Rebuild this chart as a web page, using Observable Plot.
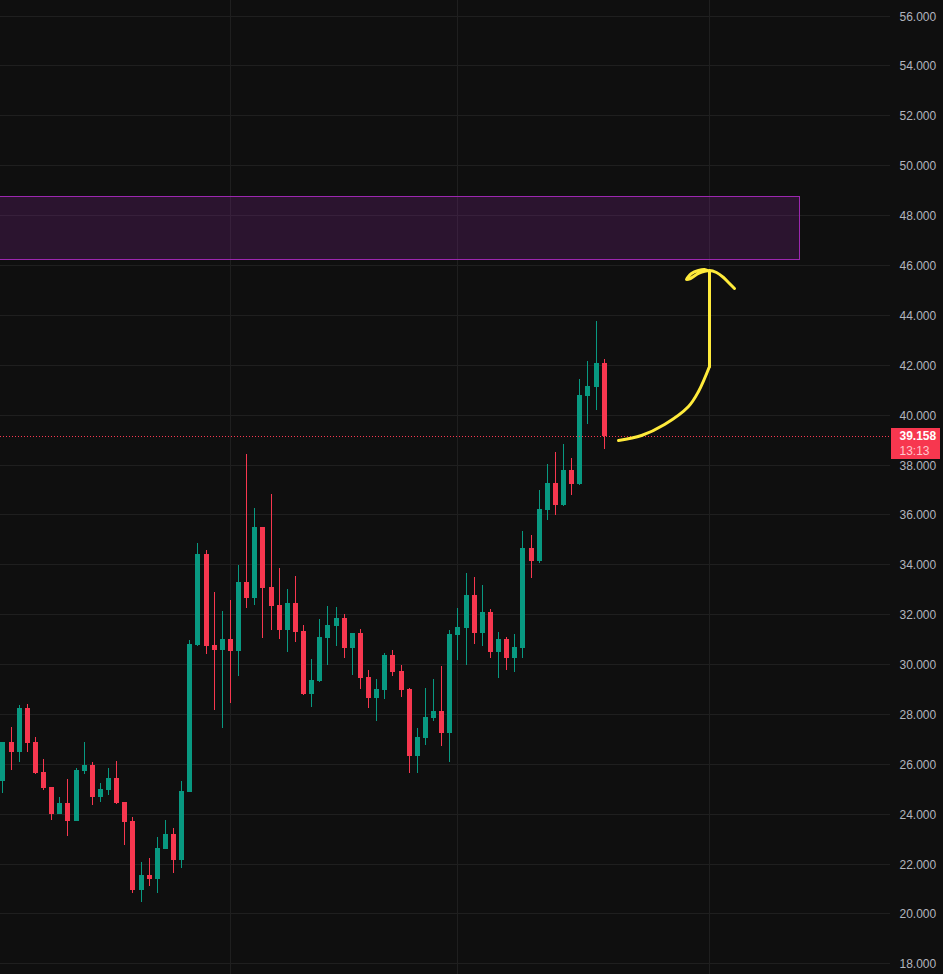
<!DOCTYPE html>
<html>
<head>
<meta charset="utf-8">
<script src="https://cdn.jsdelivr.net/npm/d3@7"></script>
<script src="https://cdn.jsdelivr.net/npm/@observablehq/plot@0.6"></script>
<style>html,body{margin:0;padding:0;background:#0f0f0f;overflow:hidden}svg{display:block}</style>
</head>
<body>
<div id="chart"></div>
<script>
const opens = [25.33,26.89,26.49,28.25,26.89,25.69,25.09,24.01,24.45,23.73,25.73,25.97,24.69,24.97,25.45,24.49,23.73,20.97,21.57,21.41,22.61,23.21,22.17,
  24.89,30.80,34.44,30.80,30.60,31.04,30.56,33.32,32.68,35.52,33.12,32.40,31.40,32.48,31.36,28.84,29.36,31.08,31.56,31.88,30.68,31.28,29.52,28.68,
  28.97,30.37,29.73,29.01,26.33,27.05,27.85,28.13,27.25,31.17,31.49,32.81,31.25,32.13,30.49,31.01,30.25,30.65,
  34.68,34.16,36.20,37.28,36.40,37.80,37.24,40.76,41.12,42.08];
const closes = [26.89,26.49,28.25,26.85,25.65,25.05,24.01,24.45,23.73,25.77,25.97,24.69,25.01,25.45,24.45,23.69,20.97,21.57,21.41,22.65,23.21,22.17,24.93,
  30.84,34.44,30.76,30.60,31.04,30.56,33.32,32.68,35.52,33.08,32.36,31.40,32.48,31.32,28.84,29.40,31.12,31.60,31.88,30.68,31.28,29.48,28.68,29.04,
  30.37,29.69,28.97,26.33,27.09,27.89,28.13,27.25,31.21,31.53,32.81,31.25,32.13,30.49,31.01,30.25,30.69,34.68,
  34.16,36.24,37.28,36.40,37.80,37.24,40.80,41.16,42.08,39.158];
const highs = [26.89,27.49,28.37,28.41,27.09,26.21,25.09,24.69,25.41,25.85,26.89,26.09,25.25,25.85,26.13,24.49,23.89,22.09,22.25,23.09,23.77,23.45,25.33,
  31.00,34.88,34.60,32.92,32.16,32.60,34.00,38.44,36.28,35.52,36.84,33.88,33.04,33.56,31.60,30.24,31.84,32.36,32.32,32.04,31.28,31.44,29.80,29.44,
  30.45,30.57,29.97,29.05,27.45,29.05,29.41,29.93,31.41,32.29,33.69,33.53,33.21,32.25,31.33,31.09,31.21,35.36,
  35.20,37.00,38.04,38.52,38.84,38.28,41.44,42.16,43.76,42.24];
const lows = [24.85,25.77,26.09,26.49,25.61,24.97,23.77,24.01,23.13,23.73,25.61,24.37,24.49,24.77,24.41,22.77,20.85,20.49,21.13,20.85,22.61,21.65,21.85,
  24.89,30.76,30.44,28.20,27.48,28.48,29.56,32.28,32.40,31.08,31.40,31.04,30.52,30.92,28.80,28.32,29.32,30.00,30.76,30.28,29.60,29.04,28.28,27.76,
  28.61,29.53,28.69,25.65,25.65,26.77,27.73,26.73,26.09,30.17,29.97,30.81,30.73,30.25,29.45,29.77,29.69,30.25,
  33.48,34.08,35.80,36.00,36.36,36.80,37.20,39.64,40.20,38.64];

const priceTicks = [18,20,22,24,26,28,30,32,34,36,38,40,42,44,46,48,50,52,54,56];
const timeGrid = [28,56,87];
const zone = {start:-2, end:98, top:48.767, bottom:46.229};
const lastPrice = 39.158;
const lastLabel = "39.158";
const countdown = "13:13";
const arrowIndex = [75.72,78.59,81.46,84.33,85.56,86.91, 86.91,86.91, 86.91,86.38,85.56,84.74,84.12,84.62,85.56,86.91,87.81,88.72,89.25,89.99];
const arrowPrice = [38.99,39.19,39.62,40.36,40.93,41.97, 41.97,45.77, 45.77,45.85,45.81,45.68,45.44,45.48,45.68,45.80,45.72,45.52,45.32,45.08];
const arrowStroke = ["curve","curve","curve","curve","curve","curve","shaft","shaft","head","head","head","head","head","head","head","head","head","head","head","head"];
const candleEdgeBias = 0.025; // candle edges were read on pixel edges, the ticks on pixel centres

const GREEN = "#089981", RED = "#f7374f", GRID = "#1f1f1f", FONT = "'Liberation Sans', Arial, sans-serif";
const candles = opens.map((o,i)=>({i,o:o-candleEdgeBias,c:closes[i]-candleEdgeBias,h:highs[i]-candleEdgeBias,l:lows[i]-candleEdgeBias,col:closes[i]>=o?GREEN:RED}));
const arrow = arrowIndex.map((x,k)=>({x,y:arrowPrice[k],z:arrowStroke[k]}));

const chart = Plot.plot({
  width:943, height:974,
  marginTop:0, marginBottom:0, marginLeft:0, marginRight:53,
  style:{background:"#0f0f0f", fontFamily:FONT},
  x:{axis:null, domain:[-0.3015,109.237], round:true},
  y:{domain:[17.572,56.626], round:true, axis:null},
  marks:[
    Plot.ruleY(priceTicks,{stroke:GRID,strokeWidth:1}),
    Plot.ruleX(timeGrid,{stroke:GRID,strokeWidth:1}),
    Plot.rect([zone],{x1:"start",x2:"end",y1:"bottom",y2:"top",fill:"#9c27b0",fillOpacity:0.2,stroke:"#9c27b0",strokeWidth:1,dx:0.5,dy:0.5}),
    Plot.ruleX(candles,{x:"i",y1:"l",y2:"h",stroke:"col",strokeWidth:1}),
    Plot.ruleX(candles,{x:"i",y1:"o",y2:"c",stroke:"col",strokeWidth:5}),
    Plot.ruleY([lastPrice],{stroke:RED,strokeWidth:1,strokeDasharray:"1,2"}),
    Plot.line(arrow,{x:"x",y:"y",z:"z",curve:"catmull-rom",stroke:"#ffeb3b",strokeWidth:3,strokeLinejoin:"round",strokeLinecap:"round"}),
    Plot.axisY(priceTicks,{anchor:"right",tickSize:0,tickPadding:9,color:"#b2b5be",fontSize:12,fontFamily:FONT,tickFormat:d3.format(".3f"),label:null,dy:0.7}),
    Plot.rect([{a:109.36,b:115.39,t:39.465,u:38.22}],{x1:"a",x2:"b",y1:"u",y2:"t",fill:RED}),
    Plot.text([lastLabel],{x:[110.34],y:[39.14],textAnchor:"start",fill:"#ffffff",fontWeight:"bold",fontSize:12,fontFamily:FONT}),
    Plot.text([countdown],{x:[110.34],y:[38.54],textAnchor:"start",fill:"#ffc6cd",fontSize:12,fontFamily:FONT})
  ]
});
document.getElementById("chart").appendChild(chart);
</script>
</body>
</html>
